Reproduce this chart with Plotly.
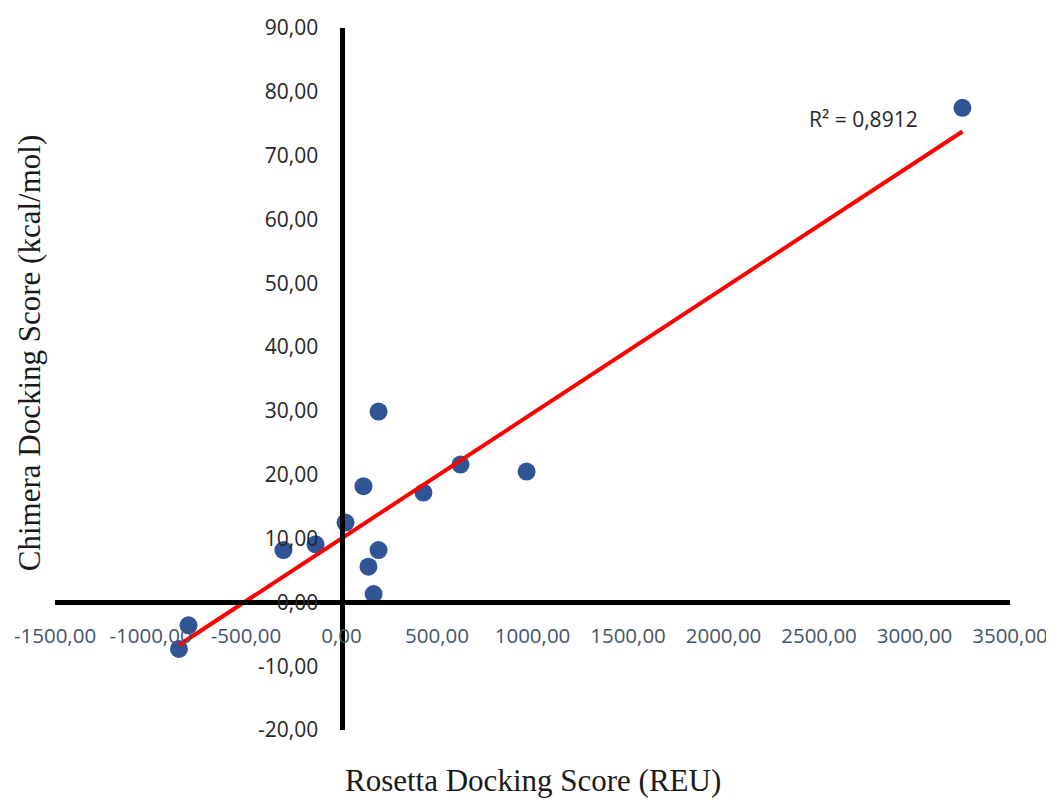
import numpy as np
import plotly.graph_objects as go

# Data
rosetta_scores = [3251, 194, 623, 969, 115, 429, 21, -136, -304, 194, 141, 168, -851, -801]
chimera_scores = [77.5, 29.9, 21.6, 20.5, 18.2, 17.2, 12.5, 9.1, 8.2, 8.2, 5.6, 1.3, -7.3, -3.6]

x_tick_vals = [-1500, -1000, -500, 0, 500, 1000, 1500, 2000, 2500, 3000, 3500]
x_tick_text = ["-1500,00", "-1000,00", "-500,00", "0,00", "500,00", "1000,00",
               "1500,00", "2000,00", "2500,00", "3000,00", "3500,00"]
y_tick_vals = [-20, -10, 0, 10, 20, 30, 40, 50, 60, 70, 80, 90]
y_tick_text = ["-20,00", "-10,00", "0,00", "10,00", "20,00", "30,00", "40,00",
               "50,00", "60,00", "70,00", "80,00", "90,00"]

r2_label = "R² = 0,8912"
x_title = "Rosetta Docking Score (REU)"
y_title = "Chimera Docking Score (kcal/mol)"

# Linear trendline (least squares) over the data range
xa = np.array(rosetta_scores, dtype=float)
ya = np.array(chimera_scores, dtype=float)
slope, intercept = np.polyfit(xa, ya, 1)
trend_x = [xa.min(), xa.max()]
trend_y = [slope * v + intercept for v in trend_x]

fig = go.Figure()
fig.add_trace(go.Scatter(
    x=rosetta_scores, y=chimera_scores, mode="markers",
    marker=dict(color="#2F5597", size=18, line=dict(width=0)),
    showlegend=False, hoverinfo="skip", cliponaxis=False,
))
fig.add_trace(go.Scatter(
    x=trend_x, y=trend_y, mode="lines",
    line=dict(color="#FF0000", width=4),
    showlegend=False, hoverinfo="skip",
))

tick_font = "Open Sans, Lato, sans-serif"
serif_font = "Liberation Serif, Times New Roman, serif"
fig.update_layout(
    width=1046, height=792,
    margin=dict(l=47, r=44, t=20, b=70, autoexpand=False),
    paper_bgcolor="white", plot_bgcolor="white",
    xaxis=dict(
        range=[-1500, 3500], anchor="free", position=20 / 110,
        showline=True, linewidth=5, linecolor="#000000",
        showgrid=False, zeroline=False, ticks="", automargin=False,
        tickvals=x_tick_vals, ticktext=x_tick_text,
        tickfont=dict(family=tick_font, size=20.5, color="#44546A"),
        ticklabelstandoff=13, ticklabeloverflow="allow",
    ),
    yaxis=dict(
        range=[-20, 90], anchor="free", position=0.3,
        showline=True, linewidth=5, linecolor="#000000",
        showgrid=False, zeroline=False, ticks="", automargin=False,
        tickvals=y_tick_vals, ticktext=y_tick_text,
        tickfont=dict(family=tick_font, size=21, color="#262626"),
        ticklabelstandoff=17,
    ),
    annotations=[
        dict(text=r2_label, xref="paper", yref="paper", x=0.847, y=0.870,
             showarrow=False, xanchor="center", yanchor="middle",
             font=dict(family=tick_font, size=21, color="#262626")),
        dict(text=x_title, xref="paper", yref="paper", x=0.5005, y=-0.072,
             showarrow=False, xanchor="center", yanchor="middle",
             font=dict(family=serif_font, size=31, color="#1a1a1a")),
        dict(text=y_title, xref="paper", yref="paper", x=-0.027, y=0.537,
             showarrow=False, xanchor="center", yanchor="middle", textangle=-90,
             font=dict(family=serif_font, size=31, color="#1a1a1a")),
    ],
)

fig.write_html("out.html")
